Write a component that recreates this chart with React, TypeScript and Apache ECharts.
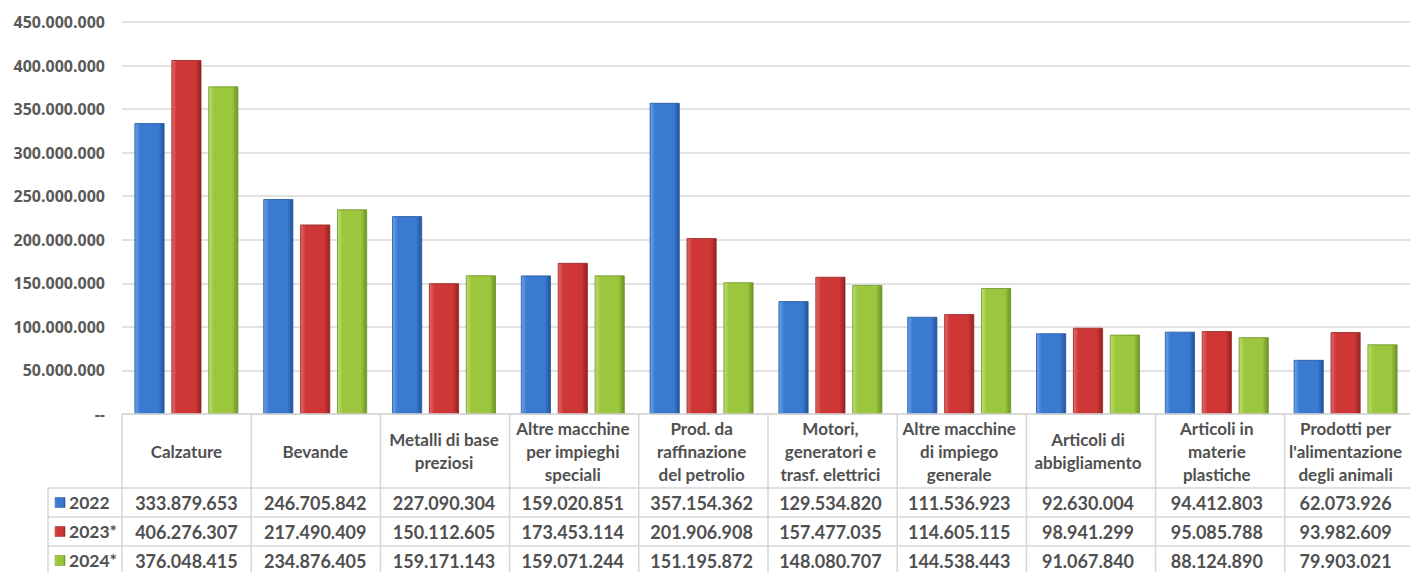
import React, { useEffect, useRef } from "react";
import * as echarts from "echarts";

const categories = [
  "Calzature",
  "Bevande",
  "Metalli di base\npreziosi",
  "Altre macchine\nper impieghi\nspeciali",
  "Prod. da\nraffinazione\ndel petrolio",
  "Motori,\ngeneratori e\ntrasf. elettrici",
  "Altre macchine\ndi impiego\ngenerale",
  "Articoli di\nabbigliamento",
  "Articoli in\nmaterie\nplastiche",
  "Prodotti per\nl'alimentazione\ndegli animali",
];
const seriesNames = ["2022", "2023*", "2024*"];
const values2022 = [333879653, 246705842, 227090304, 159020851, 357154362, 129534820, 111536923, 92630004, 94412803, 62073926];
const values2023 = [406276307, 217490409, 150112605, 173453114, 201906908, 157477035, 114605115, 98941299, 95085788, 93982609];
const values2024 = [376048415, 234876405, 159171143, 159071244, 151195872, 148080707, 144538443, 91067840, 88124890, 79903021];
const yTicks = { min: 0, max: 450000000, interval: 50000000 };

const W = 1410;
const H = 572;
const GRID_LEFT = 122;
const GRID_TOP = 22;
const GRID_BOTTOM_Y = 414;
const COL_W = 129.2;
const ROW_TOP = [488, 517, 546];
const ROW_H = 29;
const TABLE_LEFT = 48;
const LINE = "#d6d6d6";
const TEXT = "#505050";
const TABLE_FONT = "Lato";

const palettes = [
  { light: "#6aa3e8", main: "#3a7bd0", dark: "#22549c" },
  { light: "#e36a6a", main: "#cf3636", dark: "#952222" },
  { light: "#bde070", main: "#9cc63e", dark: "#6c9325" },
];

const fmt = (n: number) => String(Math.round(n)).replace(/\B(?=(\d{3})+(?!\d))/g, ".");

function grad(p: { light: string; main: string; dark: string }) {
  return new echarts.graphic.LinearGradient(0, 0, 1, 0, [
    { offset: 0, color: p.light },
    { offset: 0.18, color: p.main },
    { offset: 0.8, color: p.main },
    { offset: 1, color: p.dark },
  ]);
}

export default function App() {
  const ref = useRef<HTMLDivElement>(null);
  useEffect(() => {
    if (!ref.current) return;
    const chart = echarts.init(ref.current, undefined, { renderer: "svg" });
    const allValues = [values2022, values2023, values2024];
    const n = categories.length;
    const gridWidth = COL_W * n;
    const gridRight = W - (GRID_LEFT + gridWidth);

    const graphics: any[] = [];
    graphics.push({ type: "line", shape: { x1: GRID_LEFT, y1: GRID_BOTTOM_Y, x2: W, y2: GRID_BOTTOM_Y }, style: { stroke: LINE, lineWidth: 1.5 }, z: 10 });
    ROW_TOP.forEach((y) => {
      graphics.push({ type: "line", shape: { x1: TABLE_LEFT, y1: y, x2: W, y2: y }, style: { stroke: LINE, lineWidth: 1.5 } });
    });
    for (let i = 0; i <= n; i++) {
      const x = GRID_LEFT + i * COL_W;
      graphics.push({ type: "line", shape: { x1: x, y1: GRID_BOTTOM_Y, x2: x, y2: H }, style: { stroke: LINE, lineWidth: 1.5 } });
    }
    graphics.push({ type: "line", shape: { x1: TABLE_LEFT, y1: ROW_TOP[0], x2: TABLE_LEFT, y2: H }, style: { stroke: LINE, lineWidth: 1.5 } });
    seriesNames.forEach((name, i) => {
      const cy = ROW_TOP[i] + ROW_H / 2;
      graphics.push({
        type: "rect",
        shape: { x: 55, y: cy - 5, width: 10, height: 10 },
        style: { fill: grad(palettes[i]), stroke: palettes[i].dark, lineWidth: 0.5 },
      });
      graphics.push({
        type: "text",
        x: 69,
        y: cy,
        style: { text: name, fill: TEXT, font: `bold 17.5px ${TABLE_FONT}`, verticalAlign: "middle", textAlign: "left" },
      });
    });

    const rowAxes = allValues.map((vals, i) => ({
      type: "category",
      gridIndex: 0,
      position: "bottom",
      data: vals.map(fmt),
      axisLine: { show: false },
      axisTick: { show: false },
      axisLabel: {
        interval: 0,
        margin: ROW_TOP[i] + ROW_H / 2 - GRID_BOTTOM_Y,
        verticalAlign: "middle",
        color: TEXT,
        fontFamily: TABLE_FONT,
        fontWeight: "bold",
        fontSize: 18,
      },
    }));

    chart.setOption({
      animation: false,
      backgroundColor: "#ffffff",
      grid: { left: GRID_LEFT, right: gridRight, top: GRID_TOP, bottom: H - GRID_BOTTOM_Y, containLabel: false },
      xAxis: [
        {
          type: "category",
          data: categories,
          axisLine: { show: false },
          axisTick: { show: false },
          axisLabel: {
            interval: 0,
            margin: (ROW_TOP[0] - GRID_BOTTOM_Y) / 2,
            verticalAlign: "middle",
            color: TEXT,
            fontFamily: TABLE_FONT,
            fontWeight: "bold",
            fontSize: 17,
            lineHeight: 23,
          },
        },
        ...rowAxes,
      ],
      yAxis: {
        type: "value",
        min: yTicks.min,
        max: yTicks.max,
        interval: yTicks.interval,
        axisLine: { show: false },
        axisTick: { show: false },
        splitLine: { lineStyle: { color: "#d9d9d9", width: 1.5 } },
        axisLabel: {
          margin: 17,
          color: "#595959",
          fontFamily: "Open Sans",
          fontWeight: "bold",
          fontSize: 16,
          formatter: (v: number) => (v === 0 ? "--" : fmt(v)),
        },
      },
      series: allValues.map((vals, i) => ({
        name: seriesNames[i],
        type: "bar",
        xAxisIndex: 0,
        data: vals,
        barWidth: 30,
        barGap: "23%",
        itemStyle: { color: grad(palettes[i]), borderColor: palettes[i].dark, borderWidth: 0.8 },
      })),
      graphic: graphics,
    });
    return () => chart.dispose();
  }, []);
  return <div ref={ref} style={{ position: "fixed", left: 0, top: 0, width: W, height: H }} />;
}
